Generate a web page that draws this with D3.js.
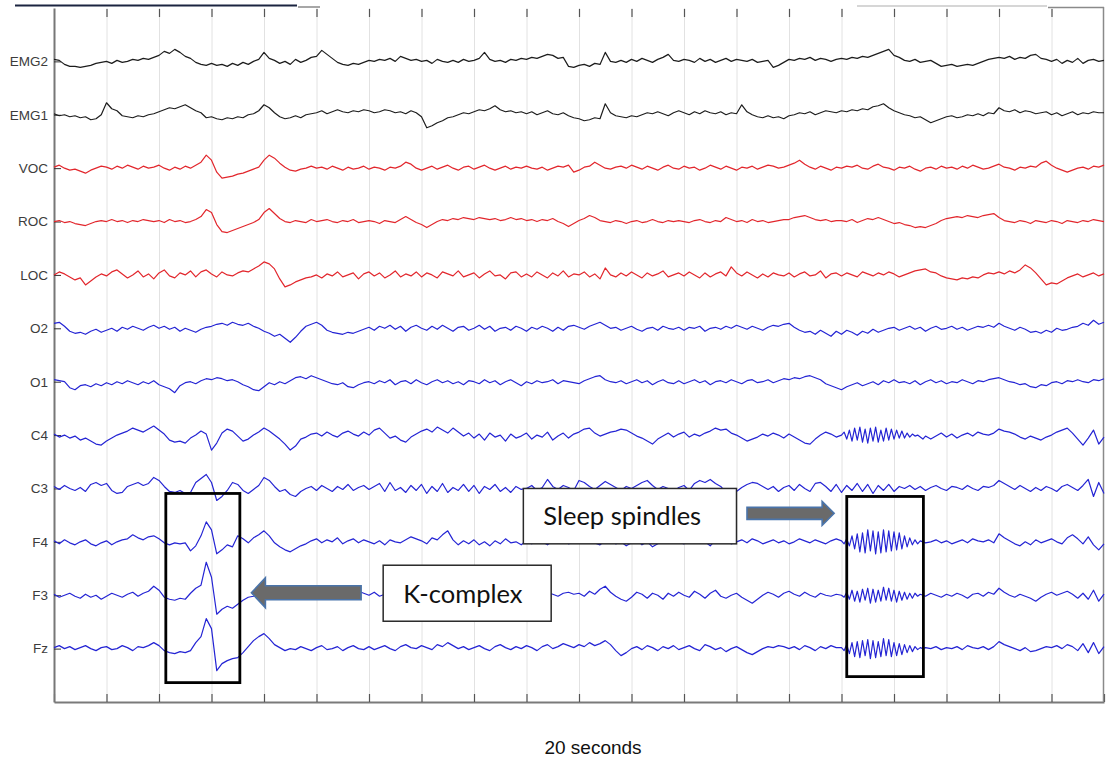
<!DOCTYPE html>
<html><head><meta charset="utf-8">
<script src="https://cdn.jsdelivr.net/npm/d3@7"></script>
<style>
html,body{margin:0;padding:0;background:#fff;}
svg{display:block;}
</style></head>
<body>
<svg id="chart" width="1107" height="765"></svg>
<script>
// ---------------- DATA ----------------
const channelLabels = ["EMG2","EMG1","VOC","ROC","LOC","O2","O1","C4","C3","F4","F3","Fz"];
const channelGroups = ["EMG","EMG","EOG","EOG","EOG","EEG","EEG","EEG","EEG","EEG","EEG","EEG"];
const sampleInterval = 0.1; // seconds per sample
const timeTicks = [0,1,2,3,4,5,6,7,8,9,10,11,12,13,14,15,16,17,18,19,20];
const xAxisTitle = "20 seconds";

const emg2 = [
 2,1,-3,-5,-5,-6,-5,-4,-2,-1,
 0,-2,1,-1,0,2,1,3,2,4,
 6,10,8,12,9,5,3,-1,-3,-4,
 -2,-4,-3,-5,-2,-4,-1,-3,0,2,
 9,3,1,-2,0,-3,2,-1,1,4,
 5,11,7,3,-1,-3,-4,-2,-3,-1,
 1,0,2,1,3,0,5,3,1,2,
 0,1,-2,2,0,-1,1,-1,2,0,
 1,3,9,2,0,1,-1,2,1,3,
 2,4,3,5,7,6,3,4,-5,-6,
 -4,-3,-5,-2,-3,9,0,-1,1,-1,
 2,0,3,1,-1,2,4,7,1,0,
 2,1,-1,3,0,2,-1,1,3,0,
 2,1,0,2,-1,0,1,-6,-4,-1,
 2,1,3,2,4,1,3,2,0,2,
 3,2,4,3,5,4,6,8,10,12,
 6,4,1,0,2,-1,0,1,-2,-5,
 -4,-3,-5,-4,-3,-4,-2,0,2,3,
 4,3,5,2,4,3,6,7,3,2,
 0,2,-2,1,-1,3,-2,1,2,0,1];

const emg1 = [
 1,-1,0,-2,-1,-3,-2,-5,-4,0,
 12,6,4,-1,-2,-3,-1,-2,0,1,
 3,5,7,6,8,10,7,4,2,-3,
 -2,-4,-5,-3,-4,-2,-3,0,1,4,
 10,7,2,-2,-4,-3,-1,-3,0,1,
 2,4,1,3,5,3,2,4,3,5,
 4,2,3,5,4,2,3,1,4,2,
 -2,-13,-11,-8,-6,-3,-2,0,2,1,
 3,5,4,6,9,5,3,4,2,3,
 1,3,0,2,4,1,0,2,-1,-3,
 -4,-6,-5,-3,-4,11,2,-1,-2,-3,
 -1,-2,0,2,1,3,1,-1,2,4,
 2,0,3,1,4,2,1,3,0,2,
 1,10,3,0,-2,-3,-1,-3,-2,-4,
 -1,0,2,1,3,0,2,4,3,2,
 4,3,5,4,6,5,8,9,11,7,
 4,2,0,-1,-3,-2,-5,-8,-6,-4,
 -2,-1,-3,-2,0,-1,1,-1,2,1,
 7,4,3,5,2,4,3,1,2,3,
 0,2,-1,1,3,0,2,1,3,2,2];

const voc = [
 1,3,0,-2,-1,-3,-5,-2,0,2,
 1,-1,2,0,3,1,-1,2,0,1,
 3,0,-2,1,-1,2,0,3,6,13,
 8,-4,-10,-9,-8,-6,-5,-3,-1,1,
 8,13,10,5,1,-2,-3,-1,0,2,
 0,1,-1,2,0,-2,1,-1,0,2,
 -1,1,0,-2,1,0,2,6,4,0,
 -2,0,2,-1,1,3,0,-2,1,2,
 -1,1,3,0,-2,0,2,-1,1,0,
 2,0,-1,1,-2,0,2,1,3,-4,
 -2,1,2,6,3,0,-1,1,2,0,
 3,1,-1,2,0,-2,1,3,0,-1,
 2,0,1,-2,0,3,1,-1,2,0,
 -2,1,0,2,-1,1,3,2,0,1,
 3,5,8,4,1,-1,2,0,-2,1,
 0,2,1,3,0,-1,2,4,1,0,
 -2,1,0,2,-1,-3,0,1,-1,2,
 0,1,-1,2,0,3,1,-1,0,2,
 4,1,0,-2,1,0,2,1,5,7,
 3,0,-2,-4,-2,0,1,-1,2,1,3];

const roc = [
 0,1,-1,0,-2,-3,-4,-2,0,1,
 0,2,0,1,-1,1,0,2,1,0,
 1,-1,2,0,1,-1,0,2,5,12,
 9,-3,-10,-11,-9,-7,-5,-3,-1,2,
 9,13,8,3,0,-1,1,0,-1,2,
 0,1,2,0,-1,1,0,2,-1,0,
 1,0,-2,1,0,-1,2,5,2,-1,
 -3,-6,-3,0,2,1,3,2,4,3,
 2,4,3,2,3,1,2,4,2,3,
 1,2,0,2,1,3,0,-2,-5,-2,
 1,3,6,4,1,0,-1,1,0,-2,
 0,1,-1,0,2,0,-1,1,0,1,
 0,-1,1,2,0,-1,1,0,4,2,
 0,1,-1,2,0,1,-1,0,1,2,
 2,4,5,6,4,2,1,2,0,1,
 1,0,2,-1,1,3,2,4,2,0,
 -2,-1,-3,-4,-6,-5,-6,-4,-2,1,
 3,4,5,4,6,5,4,6,7,8,
 4,1,0,-1,1,0,-2,1,0,-1,
 1,0,-2,1,0,-1,1,0,2,1,0];

const loc = [
 0,3,1,-2,-5,-3,-10,-6,-2,1,
 -1,3,5,1,-3,0,4,-2,1,-4,
 2,5,-1,-3,2,0,4,-2,3,5,
 1,-2,3,0,-1,2,4,3,6,9,
 13,11,6,-4,-12,-10,-7,-5,-3,-2,
 0,-3,1,-1,3,-2,0,2,-4,1,
 3,-1,2,-3,0,4,-2,1,-1,3,
 -2,2,0,-3,3,1,-1,4,-2,0,
 2,-3,1,4,-1,0,-4,2,3,-2,
 1,-2,3,0,-3,2,-1,4,-2,1,
 0,3,-2,1,-4,7,0,-2,2,-1,
 3,0,-3,2,-1,1,4,-2,0,2,
 -1,3,0,-3,2,-2,1,3,-1,8,
 2,-1,3,0,-3,1,-2,2,0,-1,
 2,-2,1,3,-1,0,4,-3,1,2,
 -1,2,0,-2,3,1,-1,2,0,3,
 1,-2,0,2,4,5,6,3,2,-1,
 -3,-4,-5,-3,-4,-2,-3,0,2,1,
 3,1,4,2,5,10,7,2,-4,-10,
 -8,-9,-6,-3,-1,1,-2,0,2,-1,1];

const o2 = [
 5,6,2,-3,-5,-4,-6,-3,-1,-4,
 -2,0,-3,1,-1,2,0,-2,1,3,
 0,2,-1,1,-3,0,-2,-4,-1,1,
 2,4,5,3,6,4,3,5,2,0,
 -3,-5,-8,-6,-10,-14,-9,-3,2,4,
 6,3,-2,-4,-5,-6,-4,-5,-3,-1,
 1,-2,2,0,3,-1,2,-3,1,3,
 0,-2,2,-1,3,0,-3,1,2,-2,
 0,3,-1,2,-3,0,1,-2,2,0,
 -3,1,-1,2,0,-3,1,-2,2,3,
 1,-1,2,4,6,3,0,1,-2,0,
 2,-1,-3,0,1,-2,2,0,-1,1,
 -2,1,0,2,-3,0,1,-1,2,0,
 3,1,-1,2,0,-2,1,3,2,4,
 5,1,-2,-4,-3,-6,-2,-5,-8,-3,
 -6,-2,-4,-7,-3,-5,-1,-4,-2,0,
 1,-2,0,2,-1,1,-3,0,2,-1,
 0,2,-1,1,-2,0,2,1,3,1,
 5,2,0,-2,1,-1,-4,-3,-5,-2,
 -4,0,-2,-1,1,2,5,3,8,4,6];

const o1 = [
 2,1,0,-6,-8,-4,-3,-5,-2,-4,
 -1,-3,0,-2,1,-1,-3,0,-2,1,
 -3,-5,-7,-11,-4,-1,0,-2,1,3,
 2,4,3,1,2,0,-3,-5,-8,-9,
 -5,-1,-3,0,-2,1,4,5,3,6,
 4,2,0,-2,-3,-1,-5,-6,-3,-1,
 0,-2,1,-1,2,-3,0,1,-2,2,
 -1,-3,0,2,-1,1,-2,0,-3,1,
 0,-2,2,-1,1,-3,0,2,-1,-4,
 0,-2,1,-1,0,2,-2,1,0,-1,
 -2,1,3,5,6,2,0,-1,1,-2,
 0,2,-1,1,-3,0,2,-1,-2,1,
 -2,0,2,-1,1,-3,0,1,-1,2,
 0,-2,1,2,-1,0,2,-1,1,3,
 2,4,3,5,6,4,2,-2,-4,-6,
 -8,-5,-3,-1,-4,-2,0,-3,1,-1,
 2,-1,0,-2,1,-3,0,2,-1,1,
 -2,0,-1,2,0,-2,1,0,2,3,
 4,2,0,-1,-3,-2,-5,-6,-3,-4,
 -1,0,-2,1,0,2,0,-1,2,1,3];

const c4 = [
 1,-2,0,-3,-1,-5,-3,-6,-9,-10,
 -6,-3,0,2,4,7,5,3,6,9,
 5,1,-5,-7,-6,-8,-3,0,4,1,
 -15,-8,2,6,4,-1,-6,-4,0,3,
 7,4,0,-4,-9,-15,-11,-4,-2,1,
 2,-1,3,0,-2,2,4,1,-1,3,
 0,5,7,2,-3,-1,-5,-7,-2,1,
 4,6,3,8,5,2,7,3,-1,2,
 -3,1,-5,2,-2,0,-6,1,-3,-1,
 2,-4,0,-2,3,-5,-1,2,-3,1,
 3,6,7,2,-1,1,3,4,6,5,
 2,-1,-3,-6,-9,-4,-1,2,-2,1,
 3,-2,1,-1,2,4,7,5,6,2,
 0,-3,-6,-4,-2,1,-1,2,0,-3,
 1,-2,-5,-8,-9,-4,0,3,1,-2,
 0,0,0,0,0,0,0,0,0,0,
 0,0,0,0,0,0,0,-4,-1,2,
 -2,1,-3,0,2,-1,3,1,0,2,
 6,4,3,1,-2,-4,-1,-3,-5,-2,
 0,3,5,7,2,-4,-10,-3,5,-9,-2];

const c3 = [
 2,-1,3,0,-2,1,-3,4,6,3,
 5,-2,-5,-4,2,4,6,3,5,11,
 8,2,-3,-4,-2,-5,-4,6,10,14,
 6,-12,-8,-2,6,4,-2,-5,-1,3,
 11,8,2,-3,-1,-6,-8,-3,0,2,
 -2,3,0,-3,2,-1,4,-2,1,3,
 -1,2,5,-3,6,-2,1,-4,3,-2,
 4,-5,2,-3,5,-4,1,-2,4,-3,
 3,-5,2,-1,4,-3,1,-4,2,-1,
 0,3,-2,1,9,2,-1,3,1,-2,
 8,6,2,-1,3,7,4,1,-2,2,
 0,3,6,8,3,-1,2,0,-3,1,
 3,-2,5,8,6,9,5,2,-4,-6,
 -3,1,4,6,5,2,-1,2,-3,1,
 3,-2,4,0,-3,5,6,2,-3,4,
 -4,3,-2,5,-3,4,-5,3,-2,4,
 -3,2,0,3,-1,2,-2,1,3,0,
 -2,2,1,-1,3,0,-2,2,1,3,
 8,5,2,-1,3,0,-3,1,-2,2,
 0,-3,2,4,1,-2,3,9,-8,6,-5];

const f4 = [
 1,-2,2,-1,-3,0,2,-2,-4,-1,
 1,-3,0,2,3,7,4,2,5,6,
 3,-1,-3,-1,-2,-1,-9,-4,6,20,
 12,-12,-8,-3,-5,6,3,-1,4,7,
 11,6,-1,-5,-8,-10,-7,-4,-2,1,
 3,-1,2,0,4,-2,1,3,-1,2,
 0,-2,1,-3,2,0,-1,2,5,3,
 1,-2,4,2,7,11,2,-3,1,-2,
 2,-3,0,-4,1,-2,3,-1,0,-3,
 1,-2,2,0,-3,1,-1,2,-2,0,
 3,5,2,-1,-3,1,4,-2,0,-4,
 -1,2,-3,0,-5,-2,1,-1,3,0,
 -2,1,3,-1,0,-4,2,1,4,-2,
 0,2,-1,3,1,-2,0,2,-1,1,
 -2,0,3,1,-1,2,0,-2,1,3,
 0,0,0,0,0,0,0,0,0,0,
 0,0,0,0,0,0,0,0,2,-1,
 1,-2,0,2,-1,3,1,0,2,-1,
 8,4,1,-2,-4,0,-3,2,-1,1,
 3,0,-2,4,7,3,-2,5,-3,-8,-2];

const f3 = [
 1,-2,0,2,-1,-3,1,-2,0,-4,
 -1,2,0,-2,1,3,-1,2,4,9,
 5,-2,-4,-5,-3,-4,2,7,10,33,
 18,-19,-14,-11,-13,-9,-5,-2,-1,1,
 3,8,4,0,-2,1,-1,2,4,0,
 -2,1,3,-1,0,2,-3,1,4,2,
 0,3,-1,1,2,-2,0,3,1,-1,
 2,0,-2,1,3,-1,0,2,-2,1,
 3,0,-1,2,-3,1,0,-2,2,1,
 -1,2,0,-2,3,1,-1,2,3,1,
 2,-1,4,1,6,9,3,-1,-4,-6,
 -2,3,1,-3,2,0,-4,2,-1,3,
 0,-2,4,1,-3,2,5,-1,-3,0,
 2,-2,-5,-8,-4,0,3,1,-2,2,
 4,1,-1,3,0,-2,2,0,-1,1,
 0,0,0,0,0,0,0,0,0,0,
 0,0,0,0,0,0,0,2,0,-2,
 1,-1,2,0,-3,1,2,-1,3,1,
 7,3,0,-2,1,-1,-3,-6,-2,1,
 3,0,2,4,1,-3,2,-4,5,-6,1];

const fz = [
 1,3,0,2,-1,1,3,0,-2,1,
 2,-1,0,3,1,-2,2,1,3,6,
 3,-2,-4,-5,-3,-4,-2,6,12,30,
 20,-22,-15,-12,-10,-9,-4,2,8,12,
 15,10,4,1,-2,0,-1,2,0,-2,
 1,3,-1,0,2,-2,1,3,0,-1,
 2,-1,1,3,0,-2,2,4,1,0,
 3,1,-1,4,2,6,3,0,2,-1,
 1,3,0,-2,2,4,1,-1,2,0,
 3,1,-2,2,4,0,2,5,3,1,
 4,2,6,3,5,8,4,-2,-7,-4,
 0,2,-1,3,1,-2,2,0,3,-1,
 1,3,0,-2,4,2,-1,1,-3,0,
 2,-1,-4,-6,-3,0,2,1,3,2,
 0,2,-1,3,1,-2,2,0,3,1,
 0,0,0,0,0,0,0,0,0,0,
 0,0,0,0,0,0,0,0,2,-1,
 1,0,2,-1,3,1,0,2,-1,2,
 7,4,2,0,-2,1,-3,-2,0,2,
 1,3,0,4,2,-2,5,-4,6,-5,2];

// sleep-spindle bursts, finer sampling (t = 15.00 s … 16.60 s)
const spindleStart = 15.0;
const spindleInterval = 0.05;
const c4Spindle = [0,3,-4,5,-6, 7,-5,8,-7,6, -8,7,-6,8,-7, 5,-6,7,-5,6, -4,5,-3,4,-3, 2,-2,1,-1,0, -2,-4,-1];
const f4Spindle = [1,-2,3,-4,6, -7,8,-10,9,-11, 12,-9,11,-12,10, -11,12,-10,11,-9, 10,-8,9,-7,6, -5,4,-3,2,-2, 1,0,-1];
const f3Spindle = [0,-2,3,-4,5, -6,4,-7,6,-5, 7,-8,6,-7,5, -6,8,-5,7,-6, 5,-7,4,-5,3, -4,2,-3,2,-1, 1,0,-1];
const fzSpindle = [1,-2,4,-5,6, -8,7,-9,8,-7, 9,-10,8,-9,7, -8,10,-7,9,-8, 6,-7,5,-6,4, -4,3,-3,2,-1, 1,0,1];

const seriesValues = [emg2, emg1, voc, roc, loc, o2, o1, c4, c3, f4, f3, fz];
const spindleValues = [null, null, null, null, null, null, null, c4Spindle, null, f4Spindle, f3Spindle, fzSpindle];

// annotations
const annotationLabels = ["Sleep spindles", "K-complex"];
const kComplexWindow = [2.13, 3.54];
const spindleWindow = [15.1, 16.56];

// ---------------- CHART ----------------
const svg = d3.select("#chart");
const x = d3.scaleLinear().domain([0, 20]).range([54, 1104]);
const y = d3.scalePoint().domain(channelLabels).range([8, 702]).padding(1);
const amp = d3.scaleLinear().domain([-40, 40]).range([40, -40]);
const groupColor = d3.scaleOrdinal().domain(["EMG","EOG","EEG"]).range(["#1c1c1c","#e2262c","#2424d4"]);

// gridlines
svg.append("g").selectAll("line")
  .data(timeTicks.slice(1, -1)).join("line")
  .attr("x1", d => x(d) + 0.5).attr("x2", d => x(d) + 0.5)
  .attr("y1", 8).attr("y2", 702)
  .attr("stroke", "#e2e2e2").attr("stroke-width", 1);

// top border fragments (as in reference)
const topFrag = [[15, 297, 5.5, "#1b2440", 2], [298, 320, 7, "#8a8a8a", 1.5], [857, 1047, 6, "#c8c8c8", 1.5], [1048, 1104, 7.5, "#8a8a8a", 1.5]];
svg.append("g").selectAll("line").data(topFrag).join("line")
  .attr("x1", d => d[0]).attr("x2", d => d[1]).attr("y1", d => d[2]).attr("y2", d => d[2])
  .attr("stroke", d => d[3]).attr("stroke-width", d => d[4]);

// top ticks
const topAxis = svg.append("g").attr("transform", "translate(0,9)")
  .call(d3.axisTop(x).tickValues(timeTicks.slice(1, -1)).tickSizeInner(-8).tickSizeOuter(0).tickFormat(""));
topAxis.select(".domain").remove();
topAxis.selectAll(".tick line").attr("stroke", "#555").attr("stroke-width", 1.2);

// bottom axis
const bottomAxis = svg.append("g").attr("transform", "translate(0,702)")
  .call(d3.axisBottom(x).tickValues(timeTicks).tickSizeInner(-8).tickSizeOuter(0).tickFormat(""));
bottomAxis.select(".domain").attr("stroke", "#7a7a7a").attr("stroke-width", 2);
bottomAxis.selectAll(".tick line").attr("stroke", "#555").attr("stroke-width", 1.2);

// right border
svg.append("line").attr("x1", 1103.5).attr("x2", 1103.5).attr("y1", 7).attr("y2", 702)
  .attr("stroke", "#8a8a8a").attr("stroke-width", 1.5);

// left axis with channel labels
const leftAxis = svg.append("g").attr("transform", "translate(54,0)")
  .call(d3.axisLeft(y).tickSizeInner(-7).tickSizeOuter(0).tickPadding(6));
leftAxis.select(".domain").attr("stroke", "#777").attr("stroke-width", 2);
leftAxis.selectAll(".tick line").attr("stroke", "#333").attr("stroke-width", 1);
leftAxis.selectAll(".tick text")
  .attr("font-family", "'Liberation Sans', Arial, sans-serif")
  .attr("font-size", 13.5).attr("fill", "#3c3c3c");

// traces
const line = d3.line().curve(d3.curveLinear);
function tracePoints(vals, ci) {
  const seg = spindleValues[ci];
  let pts = vals.map((v, i) => [i * sampleInterval, v]);
  if (seg) {
    const segEnd = spindleStart + (seg.length - 1) * spindleInterval;
    pts = pts.filter(p => p[0] < spindleStart - 1e-9 || p[0] > segEnd + 1e-9)
      .concat(seg.map((v, j) => [spindleStart + j * spindleInterval, v]))
      .sort((a, b) => a[0] - b[0]);
  }
  return pts.map(p => [x(p[0]), y(channelLabels[ci]) + amp(p[1])]);
}
svg.append("g").selectAll("path")
  .data(seriesValues).join("path")
  .attr("d", (vals, ci) => line(tracePoints(vals, ci)))
  .attr("fill", "none")
  .attr("stroke", (vals, ci) => groupColor(channelGroups[ci]))
  .attr("stroke-width", 1.2)
  .attr("stroke-linejoin", "round");

// annotation text boxes
const annFont = "Lato, 'Open Sans', sans-serif";
const boxes = [
  {label: annotationLabels[0], x0: x(8.94), x1: x(13.0), y0: y("C3"), y1: y("F4") + 2, tx: x(9.32), ty: y("C3") + 37},
  {label: annotationLabels[1], x0: x(6.27), x1: x(9.47), y0: y("F3") - 30, y1: y("F3") + 26, tx: x(6.65), ty: y("F3") + 8}
];
const boxG = svg.append("g").selectAll("g").data(boxes).join("g");
boxG.append("rect")
  .attr("x", d => d.x0).attr("y", d => d.y0)
  .attr("width", d => d.x1 - d.x0).attr("height", d => d.y1 - d.y0)
  .attr("fill", "#fff").attr("stroke", "#2a2a2a").attr("stroke-width", 1.5);
boxG.append("text")
  .attr("x", d => d.tx).attr("y", d => d.ty)
  .attr("font-family", annFont).attr("font-size", 25.5).attr("fill", "#111")
  .text(d => d.label);

// arrows
function arrowPath(tipX, tailX, cy, shaftH, headH, headL) {
  const dir = Math.sign(tailX - tipX);
  const hb = tipX + dir * headL;
  return `M${tipX},${cy} L${hb},${cy - headH / 2} L${hb},${cy - shaftH / 2} L${tailX},${cy - shaftH / 2} L${tailX},${cy + shaftH / 2} L${hb},${cy + shaftH / 2} L${hb},${cy + headH / 2} Z`;
}
const arrows = [
  {tip: x(3.76), tail: x(5.85), cy: y("F3") - 2.5, sh: 14, hh: 30, hl: 14},
  {tip: x(14.86), tail: x(13.2), cy: y("F4") - 28.5, sh: 12, hh: 24, hl: 12}
];
svg.append("g").selectAll("path").data(arrows).join("path")
  .attr("d", d => arrowPath(d.tip, d.tail, d.cy, d.sh, d.hh, d.hl))
  .attr("fill", "#6a6a6a").attr("stroke", "#4a74aa").attr("stroke-width", 1.6)
  .attr("stroke-linejoin", "miter");

// highlight rectangles
const highlight = [
  {x0: x(kComplexWindow[0]), x1: x(kComplexWindow[1]), y0: y("C3") + 5, y1: y("Fz") + 34},
  {x0: x(spindleWindow[0]), x1: x(spindleWindow[1]), y0: y("C3") + 8, y1: y("Fz") + 28}
];
svg.append("g").selectAll("rect").data(highlight).join("rect")
  .attr("x", d => d.x0).attr("y", d => d.y0)
  .attr("width", d => d.x1 - d.x0).attr("height", d => d.y1 - d.y0)
  .attr("fill", "none").attr("stroke", "#000").attr("stroke-width", 2.8);

// x title
svg.append("text")
  .attr("x", 593).attr("y", 754)
  .attr("text-anchor", "middle")
  .attr("font-family", "'Liberation Sans', Arial, sans-serif")
  .attr("font-size", 19).attr("fill", "#111")
  .text(xAxisTitle);
</script>
</body></html>
